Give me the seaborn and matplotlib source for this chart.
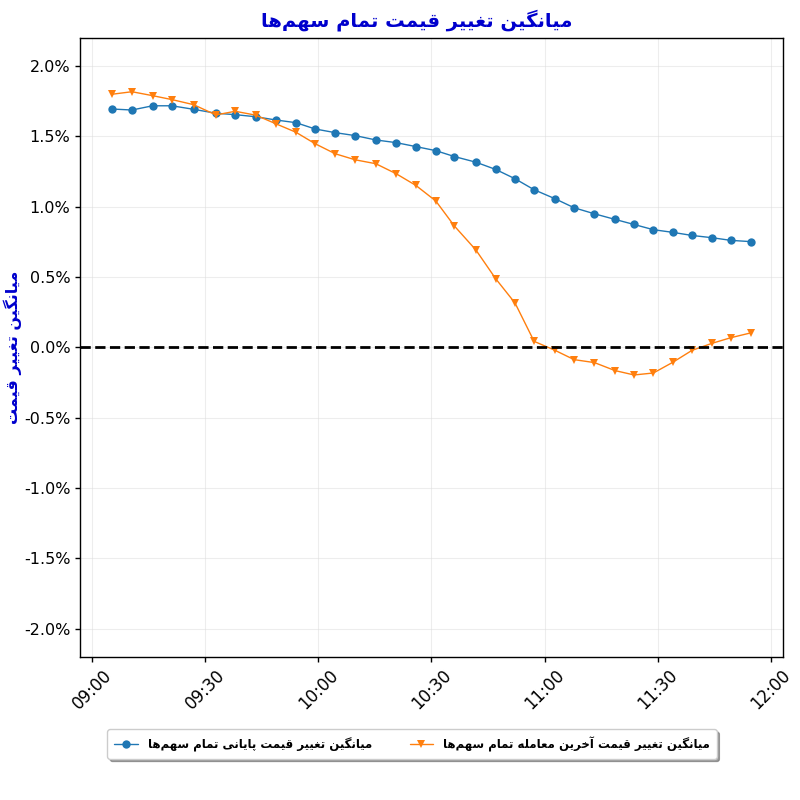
import numpy as np
import pandas as pd
import matplotlib
matplotlib.use("Agg")
import matplotlib.pyplot as plt
import matplotlib.dates as mdates
from matplotlib.ticker import FuncFormatter
import seaborn as sns

# ---------------- data ----------------
times = ["09:05:18", "09:10:36", "09:16:04", "09:21:12", "09:26:56", "09:32:52",
         "09:37:59", "09:43:28", "09:48:46", "09:54:04", "09:59:11", "10:04:29",
         "10:09:47", "10:15:16", "10:20:39", "10:25:52", "10:31:10", "10:36:06",
         "10:41:47", "10:47:05", "10:52:11", "10:57:14", "11:02:47", "11:07:50",
         "11:13:13", "11:18:42", "11:23:44", "11:28:51", "11:34:00", "11:39:06",
         "11:44:24", "11:49:24", "11:54:48"]

close_change = [1.695, 1.688, 1.718, 1.718, 1.693, 1.665, 1.655, 1.640, 1.617, 1.598,
                1.553, 1.527, 1.506, 1.475, 1.456, 1.428, 1.399, 1.357, 1.317, 1.265,
                1.199, 1.121, 1.057, 0.993, 0.950, 0.910, 0.874, 0.837, 0.818, 0.796,
                0.780, 0.761, 0.752]

last_change = [1.800, 1.818, 1.790, 1.762, 1.726, 1.653, 1.679, 1.651, 1.590, 1.530,
               1.448, 1.377, 1.334, 1.306, 1.235, 1.152, 1.041, 0.863, 0.693, 0.487,
               0.315, 0.043, -0.021, -0.087, -0.108, -0.165, -0.196, -0.182, -0.106,
               -0.021, 0.029, 0.069, 0.104]

title_text = "میانگین تغییر قیمت تمام سهم‌ها"
ylabel_text = "میانگین تغییر قیمت"
close_label = "میانگین تغییر قیمت پایانی تمام سهم‌ها"
last_label = "میانگین تغییر قیمت آخرین معامله تمام سهم‌ها"
ytick_values = [-2.0, -1.5, -1.0, -0.5, 0.0, 0.5, 1.0, 1.5, 2.0]

# ------------- Arabic/Persian shaping (presentation forms, visual order) -------------
FORMS = {
    'ا': ('\uFE8D', '\uFE8E', None, None),
    'آ': ('\uFE81', '\uFE82', None, None),
    'ر': ('\uFEAD', '\uFEAE', None, None),
    'پ': ('\uFB56', '\uFB57', '\uFB58', '\uFB59'),
    'ت': ('\uFE95', '\uFE96', '\uFE97', '\uFE98'),
    'خ': ('\uFEA5', '\uFEA6', '\uFEA7', '\uFEA8'),
    'س': ('\uFEB1', '\uFEB2', '\uFEB3', '\uFEB4'),
    'ع': ('\uFEC9', '\uFECA', '\uFECB', '\uFECC'),
    'غ': ('\uFECD', '\uFECE', '\uFECF', '\uFED0'),
    'ق': ('\uFED5', '\uFED6', '\uFED7', '\uFED8'),
    'گ': ('\uFB92', '\uFB93', '\uFB94', '\uFB95'),
    'ل': ('\uFEDD', '\uFEDE', '\uFEDF', '\uFEE0'),
    'م': ('\uFEE1', '\uFEE2', '\uFEE3', '\uFEE4'),
    'ن': ('\uFEE5', '\uFEE6', '\uFEE7', '\uFEE8'),
    'ه': ('\uFEE9', '\uFEEA', '\uFEEB', '\uFEEC'),
    'ی': ('\uFBFC', '\uFBFD', '\uFBFE', '\uFBFF'),
}


def dual(c):
    return c in FORMS and FORMS[c][2] is not None


def shape(text):
    out = []
    n = len(text)
    for i, c in enumerate(text):
        if c not in FORMS:
            if c != '\u200c':
                out.append(c)
            continue
        prev = text[i - 1] if i > 0 else ''
        nxt = text[i + 1] if i + 1 < n else ''
        jp = dual(prev)
        jn = dual(c) and nxt in FORMS
        iso, fin, ini, med = FORMS[c]
        if jp and jn:
            out.append(med)
        elif jp:
            out.append(fin)
        elif jn:
            out.append(ini)
        else:
            out.append(iso)
    return ''.join(out)[::-1]


# ---------------- plot ----------------
sns.set_theme(style="white")
plt.rcParams['font.family'] = ['DejaVu Sans']

base = "2024-01-01 "
df = pd.DataFrame({
    "time": pd.to_datetime([base + t for t in times]),
    "close": close_change,
    "last": last_change,
})

fig = plt.figure(figsize=(8, 8), dpi=100)
ax = fig.add_axes([0.10, 0.179, 0.879, 0.7735])

sns.lineplot(data=df, x="time", y="close", ax=ax, color="#1f77b4", marker="o",
             markersize=6, markeredgewidth=0, linewidth=1, label=shape(close_label))
sns.lineplot(data=df, x="time", y="last", ax=ax, color="#ff7f0e", marker="v",
             markersize=6, markeredgewidth=0, linewidth=1, label=shape(last_label))

ax.axhline(0, color="black", linestyle="--", linewidth=2)

ax.set_ylim(-2.2, 2.2)
ax.set_yticks(ytick_values)
ax.yaxis.set_major_formatter(FuncFormatter(lambda v, p: f"{v:.1f}%"))
ax.xaxis.set_major_locator(mdates.MinuteLocator(byminute=[0, 30]))
ax.xaxis.set_major_formatter(mdates.DateFormatter("%H:%M"))
ax.tick_params(axis="y", labelsize=11.5, length=3.5, width=1, colors="black",
               direction="out", left=True)
ax.tick_params(axis="x", labelsize=12, length=3.5, width=1, colors="black",
               direction="out", bottom=True)
for lbl in ax.get_xticklabels():
    lbl.set_rotation(45)

ax.grid(True, color="#dddddd", alpha=0.5, linewidth=0.8)
for s in ax.spines.values():
    s.set_color("black")
    s.set_linewidth(1)

ax.set_xlabel("")
ax.set_ylabel(shape(ylabel_text), color="mediumblue", fontsize=11.5, fontweight="bold")
ax.yaxis.set_label_coords(-0.083, 0.5)
ax.set_title(shape(title_text), color="mediumblue", fontsize=14, fontweight="bold",
             pad=8, x=0.479)

ax.legend_.remove()
handles, labels = ax.get_legend_handles_labels()
fig.legend(handles, labels, loc="center", bbox_to_anchor=(0.515, 0.07), ncol=2,
           frameon=True, shadow=True, fancybox=True, edgecolor="#cccccc",
           labelcolor="black", prop={"weight": "bold", "size": 8.5},
           columnspacing=3.2, borderpad=0.6)

fig.savefig("out.png", dpi=100)
